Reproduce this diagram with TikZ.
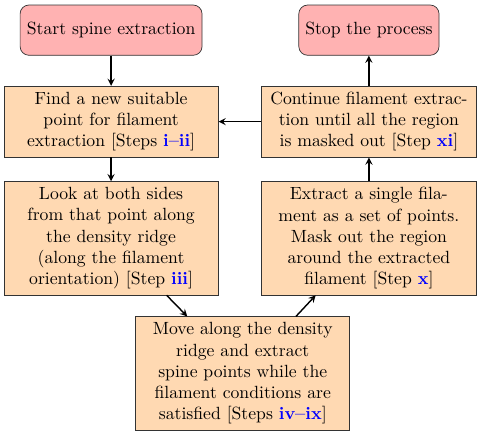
\documentclass[tikz,border=0pt]{standalone}
\usepackage{amsmath,amssymb}
\usepackage{tikz}
\usetikzlibrary{arrows,shapes,positioning,calc}
\usepackage{xcolor}

\newcommand{\stepref}[1]{\textbf{\color{blue}#1}}

\begin{document}
\begin{tikzpicture}[->, >=stealth, thick,
    startstop/.style={draw=black!80, thin, rounded corners=5pt, fill=red!30,
                      minimum width=3.62cm, minimum height=1cm, align=center},
    process/.style={draw=black!80, thin, fill=orange!30, text width=4.05cm,
                    inner xsep=3pt, align=center}]
  \useasboundingbox (0,0) rectangle (9.55,-8.76);

  \node[startstop] (start) at (2.21,-0.60) {Start spine extraction};
  \node[startstop, minimum width=2.79cm] (stop) at (7.34,-0.60) {Stop the process};

  \node[process] (find) at (2.21,-2.42) {Find a new suitable\\ point for filament\\
    extraction [Steps \stepref{i--ii}]};
  \node[process] (look) at (2.21,-4.74) {Look at both sides\\ from that point along\\
    the density ridge\\ (along the filament\\ orientation) [Step \stepref{iii}]};
  \node[process] (move) at (4.83,-7.43) {Move along the density\\ ridge and extract\\
    spine points while the\\ filament conditions are\\ satisfied [Steps \stepref{iv--ix}]};
  \node[process] (extr) at (7.34,-4.74) {Extract a single fila-\\ ment as a set of points.\\
    Mask out the region\\ around the extracted\\ filament [Step \stepref{x}]};
  \node[process] (cont) at (7.34,-2.42) {Continue filament extrac-\\ tion until all the region\\
    is masked out [Step \stepref{xi}]};

  \draw (start) -- (find);
  \draw (find) -- (look);
  \draw (look) -- (move);
  \draw (move) -- (extr);
  \draw (extr) -- (cont);
  \draw (cont) -- (find);
  \draw (cont) -- (stop);
\end{tikzpicture}
\end{document}
